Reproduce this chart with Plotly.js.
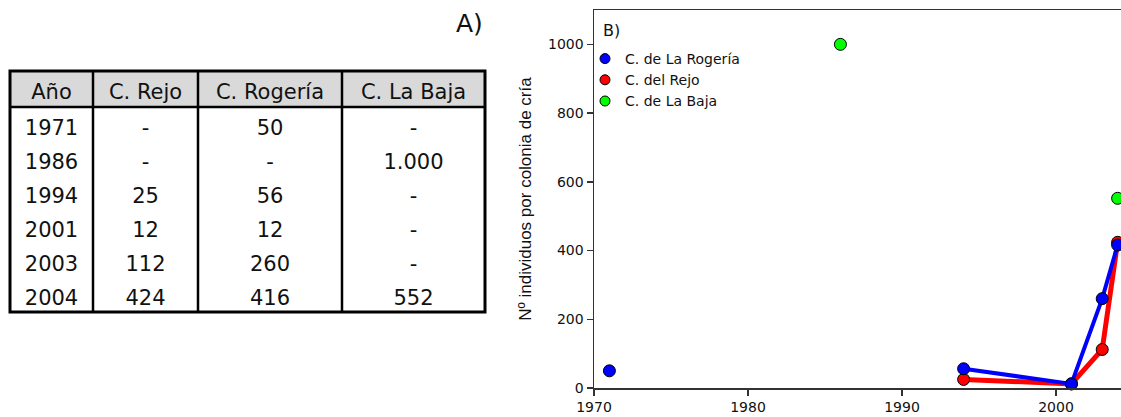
<!DOCTYPE html>
<html><head><meta charset="utf-8">
<script src="https://cdn.plot.ly/plotly-3.0.1.min.js"></script>
<style>html,body{margin:0;padding:0;overflow:hidden;background:#fff}</style>
</head><body><div id="chart" style="width:1121px;height:417px"></div>
<script>
const years = [1971, 1986, 1994, 2001, 2003, 2004];
const rejo = [null, null, 25, 12, 112, 424];
const rogeria = [50, null, 56, 12, 260, 416];
const laBaja = [null, 1000, null, null, null, 552];
const tableHeader = ["Año", "C. Rejo", "C. Rogería", "C. La Baja"];
const legendNames = ["C. de La Rogería", "C. del Rejo", "C. de La Baja"];
const xTicks = [1970, 1980, 1990, 2000];
const yTicks = [0, 200, 400, 600, 800, 1000];

const W = 1121, H = 417;
const px = x => x / W;
const py = y => 1 - y / H;
const fmt = n => n == null ? '-' : String(n).replace(/\B(?=(\d{3})+(?!\d))/g, '.');

const tFont = {family: 'DejaVu Sans', size: 21, color: '#111'};
const table = {
  type: 'table',
  domain: {x: [px(10), px(485)], y: [py(316), py(75)]},
  columnwidth: [83, 105, 144, 143],
  header: {values: tableHeader, align: 'center', height: 36,
    fill: {color: 'rgba(0,0,0,0)'}, line: {color: 'rgba(0,0,0,0)', width: 0}, font: tFont},
  cells: {values: [years.map(String), rejo.map(fmt), rogeria.map(fmt), laBaja.map(fmt)],
    align: 'center', height: 34, fill: {color: 'rgba(0,0,0,0)'}, line: {color: 'rgba(0,0,0,0)', width: 0}, font: tFont}
};

const mk = (c, s) => ({color: c, size: s, line: {color: '#000', width: 1}});
const red = {type: 'scatter', mode: 'lines+markers', x: years, y: rejo, name: legendNames[1],
  line: {color: '#ff0000', width: 5}, marker: mk('#ff0000', 12), connectgaps: false, showlegend: false, cliponaxis: false};
const blue = {type: 'scatter', mode: 'lines+markers', x: years, y: rogeria, name: legendNames[0],
  line: {color: '#0000ff', width: 4}, marker: mk('#0000ff', 12), connectgaps: false, showlegend: false, cliponaxis: false};
const green = {type: 'scatter', mode: 'markers', x: years, y: laBaja, name: legendNames[2],
  marker: mk('#00ff00', 12), showlegend: false, cliponaxis: false};
const leg = (name, c, r) => ({type: 'scatter', mode: 'markers', x: [null], y: [null], name: name,
  marker: mk(c, 10), legendrank: r, showlegend: true});

const axisCommon = {showline: true, linecolor: '#333', linewidth: 1.5, ticks: 'outside', ticklen: 6,
  tickcolor: '#333', tickwidth: 1.5, showgrid: false, zeroline: false, automargin: false,
  tickfont: {family: 'DejaVu Sans', size: 14, color: '#111'}};

const layout = {
  width: W, height: H, margin: {l: 0, r: 0, t: 0, b: 0},
  paper_bgcolor: 'white', plot_bgcolor: 'white',
  xaxis: Object.assign({}, axisCommon, {domain: [px(594), 1], range: [1970, 2004.22], mirror: true,
    tickmode: 'array', tickvals: xTicks}),
  yaxis: Object.assign({}, axisCommon, {domain: [py(388), py(10)], range: [0, 1100],
    tickmode: 'array', tickvals: yTicks,
    title: {text: 'Nº individuos por colonia de cría', standoff: 12,
      font: {family: 'Liberation Sans', size: 17, color: '#111'}}}),
  showlegend: true,
  legend: {x: px(585), y: py(43), xanchor: 'left', yanchor: 'top', bgcolor: 'rgba(0,0,0,0)',
    font: {family: 'DejaVu Sans', size: 14, color: '#111'}, tracegroupgap: 0},
  annotations: [
    {text: 'A)', x: px(469), y: py(24), xref: 'paper', yref: 'paper', showarrow: false,
      xanchor: 'center', yanchor: 'middle',
      font: {family: 'DejaVu Sans', size: 25, color: '#111'}},
    {text: 'B)', x: px(611), y: py(30), xref: 'paper', yref: 'paper', showarrow: false,
      xanchor: 'center', yanchor: 'middle',
      font: {family: 'DejaVu Sans', size: 16, color: '#111'}}
  ],
  shapes: [
    {type: 'rect', xref: 'paper', yref: 'paper', x0: px(10), x1: px(485), y0: py(71), y1: py(107),
      line: {width: 0}, fillcolor: '#d9d9d9', layer: 'below'},
    {type: 'rect', xref: 'paper', yref: 'paper', x0: px(10), x1: px(485), y0: py(71), y1: py(312),
      line: {color: '#000', width: 3}},
    {type: 'line', xref: 'paper', yref: 'paper', x0: px(10), x1: px(485), y0: py(107), y1: py(107),
      line: {color: '#000', width: 2.5}},
    {type: 'line', xref: 'paper', yref: 'paper', x0: px(93), x1: px(93), y0: py(71), y1: py(312),
      line: {color: '#000', width: 2.5}},
    {type: 'line', xref: 'paper', yref: 'paper', x0: px(198), x1: px(198), y0: py(71), y1: py(312),
      line: {color: '#000', width: 2.5}},
    {type: 'line', xref: 'paper', yref: 'paper', x0: px(342), x1: px(342), y0: py(71), y1: py(312),
      line: {color: '#000', width: 2.5}}
  ]
};

Plotly.newPlot('chart', [table, red, blue, green,
  leg(legendNames[0], '#0000ff', 1), leg(legendNames[1], '#ff0000', 2), leg(legendNames[2], '#00ff00', 3)],
  layout, {displayModeBar: false, staticPlot: true});
</script></body></html>
